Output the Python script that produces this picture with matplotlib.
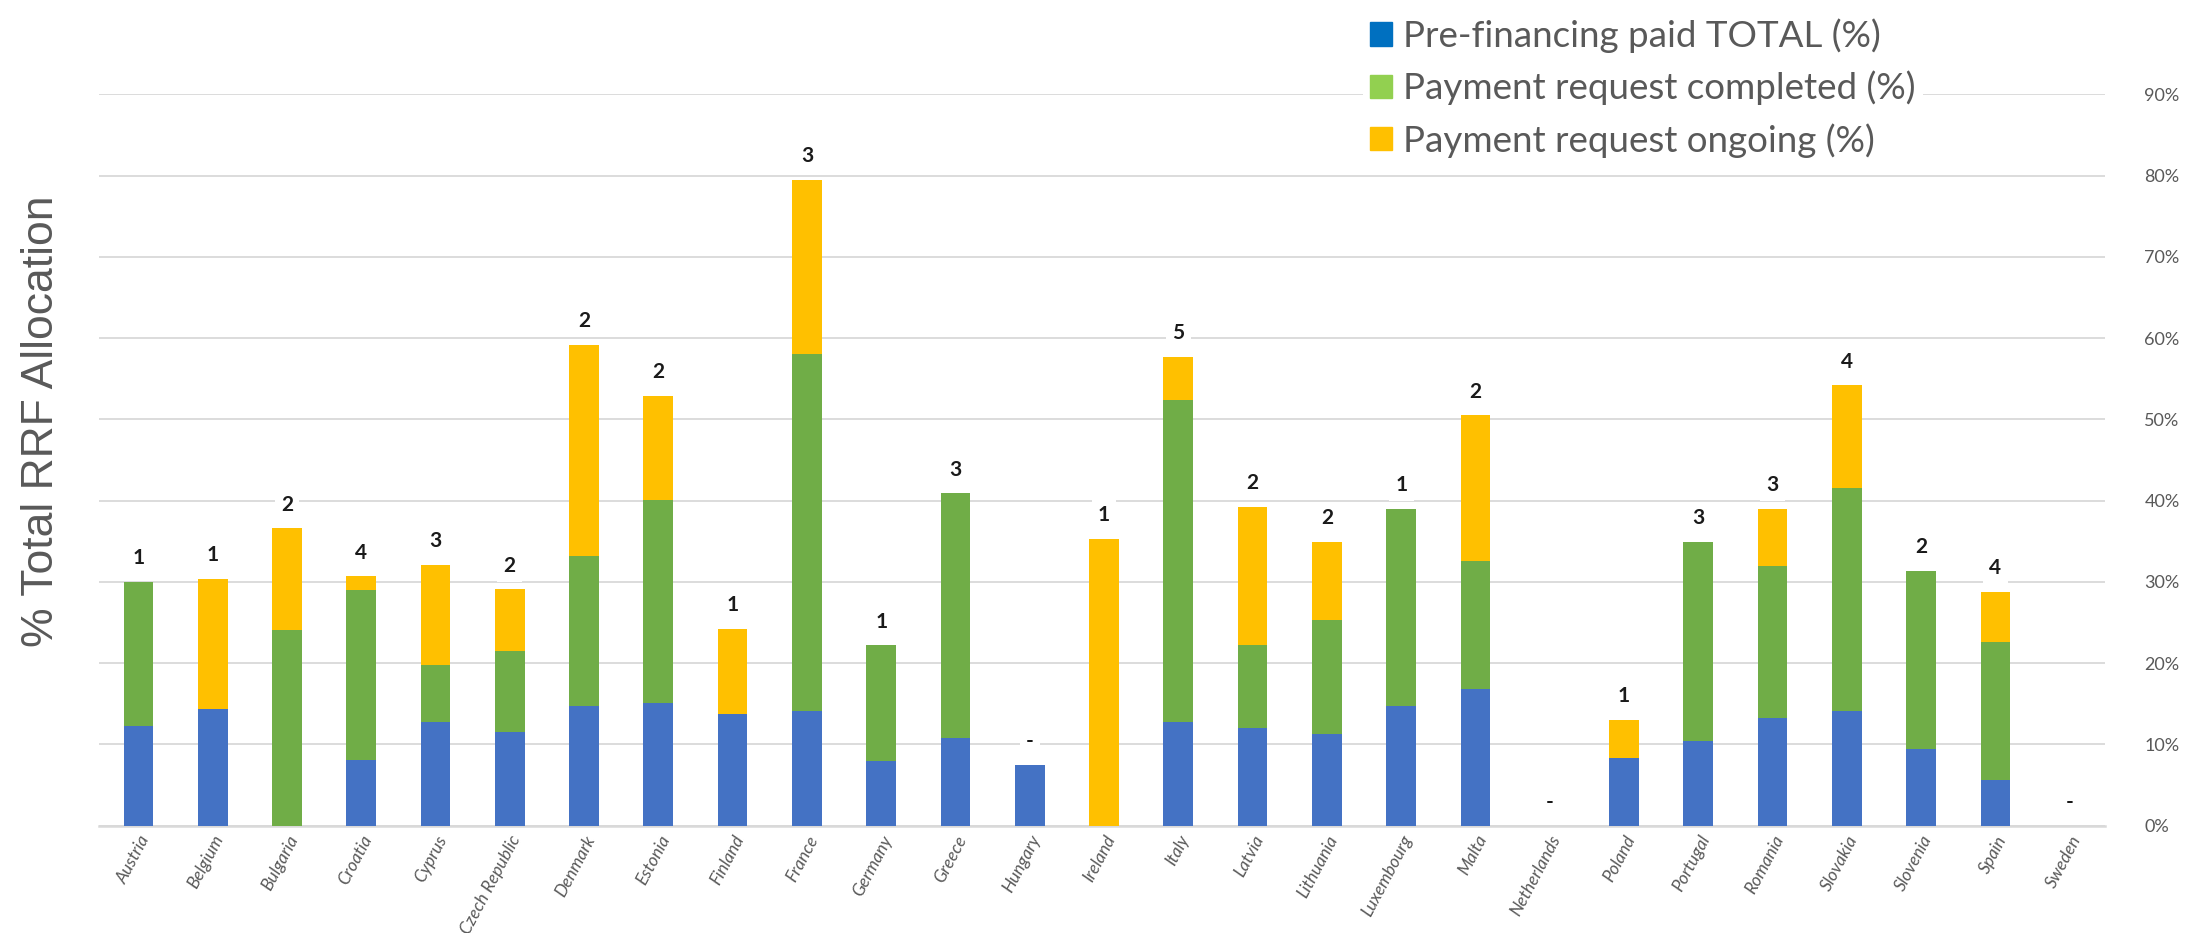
import matplotlib
matplotlib.use("Agg")
import matplotlib.pyplot as plt
from matplotlib.patches import Patch
import numpy as np

# --- data (% of total RRF allocation) --------------------------------------------------------- #
countries = ["Austria", "Belgium", "Bulgaria", "Croatia", "Cyprus", "Czech Republic", "Denmark",
             "Estonia", "Finland", "France", "Germany", "Greece", "Hungary", "Ireland", "Italy",
             "Latvia", "Lithuania", "Luxembourg", "Malta", "Netherlands", "Poland", "Portugal",
             "Romania", "Slovakia", "Slovenia", "Spain", "Sweden"]
prefinancing = [12.3, 14.4, 0.0, 8.1, 12.8, 11.5, 14.7, 15.1, 13.8, 14.1, 7.9, 10.8, 7.5, 0.0, 12.8,
                12.0, 11.3, 14.7, 16.8, 0.0, 8.3, 10.4, 13.2, 14.1, 9.4, 5.6, 0.0]
completed_top = [30.0, 14.4, 24.1, 29.0, 19.8, 21.5, 33.2, 40.1, 13.8, 58.0, 22.2, 40.9, 7.5, 0.0,
                 52.4, 22.2, 25.3, 39.0, 32.6, 0.0, 8.3, 34.9, 32.0, 41.6, 31.4, 22.6, 0.0]
ongoing_top = [30.0, 30.4, 36.6, 30.7, 32.1, 29.1, 59.2, 52.9, 24.2, 79.5, 22.2, 40.9, 7.5, 35.3,
               57.7, 39.2, 34.9, 39.0, 50.5, 0.0, 13.0, 34.9, 39.0, 54.2, 31.4, 28.8, 0.0]
n_requests = ["1", "1", "2", "4", "3", "2", "2", "2", "1", "3", "1", "3", "-", "1", "5", "2", "2",
              "1", "2", "-", "1", "3", "3", "4", "2", "4", "-"]

BLUE, GREEN, YELLOW = "#4472C4", "#70AD47", "#FFC000"
GREY = "#595959"

pre = np.array(prefinancing)
comp = np.array(completed_top) - pre
ong = np.array(ongoing_top) - np.array(completed_top)
x = np.arange(len(countries))

fig = plt.figure(figsize=(22, 9.33), dpi=100)
ax = fig.add_axes([0.045, 0.115, 0.912, 0.784])

w = 0.40
ax.bar(x, pre, w, color=BLUE, zorder=3)
ax.bar(x, comp, w, bottom=pre, color=GREEN, zorder=3)
ax.bar(x, ong, w, bottom=pre + comp, color=YELLOW, zorder=3)

for xi, top, lab in zip(x, ongoing_top, n_requests):
    ax.annotate(lab, (xi, top), xytext=(0, 17), textcoords="offset points", ha="center",
                va="center", fontsize=15, fontweight="bold", color="#1a1a1a", family="Lato",
                bbox=dict(boxstyle="square,pad=0.3", fc="white", ec="none"), zorder=4)

ax.set_xlim(-0.53, 26.48)
ax.set_ylim(0, 90)
ax.set_yticks(np.arange(0, 91, 10))
ax.set_yticklabels([f"{v}%" for v in range(0, 91, 10)], fontsize=13, color=GREY, family="Lato")
ax.yaxis.tick_right()
ax.tick_params(axis="y", length=0, pad=28)
ax.grid(axis="y", color="#D9D9D9", lw=1.3, zorder=0)
ax.set_xticks(x)
ax.set_xticklabels(countries, rotation=62, ha="right", rotation_mode="anchor", fontsize=12.5,
                   color=GREY, family="Lato", style="italic")
ax.tick_params(axis="x", length=0, pad=5)
for s in ("top", "left", "right"):
    ax.spines[s].set_visible(False)
ax.spines["bottom"].set_color("#D9D9D9")
ax.spines["bottom"].set_linewidth(1.8)

fig.text(0.019, 0.549, "% Total RRF Allocation", rotation=90, ha="center", va="center",
         fontsize=32, color=GREY, family="Liberation Sans")

handles = [Patch(color="#0070C0"), Patch(color="#92D050"), Patch(color="#FFC000")]
labels = ["Pre-financing paid TOTAL (%)", "Payment request completed (%)", "Payment request ongoing (%)"]
leg = fig.legend(handles, labels, loc="upper left", bbox_to_anchor=(0.611, 1.008), frameon=True,
                 fancybox=False, edgecolor="none", facecolor="white", framealpha=1,
                 prop={"family": "Lato", "size": 26.5}, handlelength=0.6, handleheight=0.6,
                 handletextpad=0.3, labelspacing=0.48, borderpad=0.2, labelcolor=GREY)
leg.set_zorder(5)

fig.savefig("out.png", dpi=100)
